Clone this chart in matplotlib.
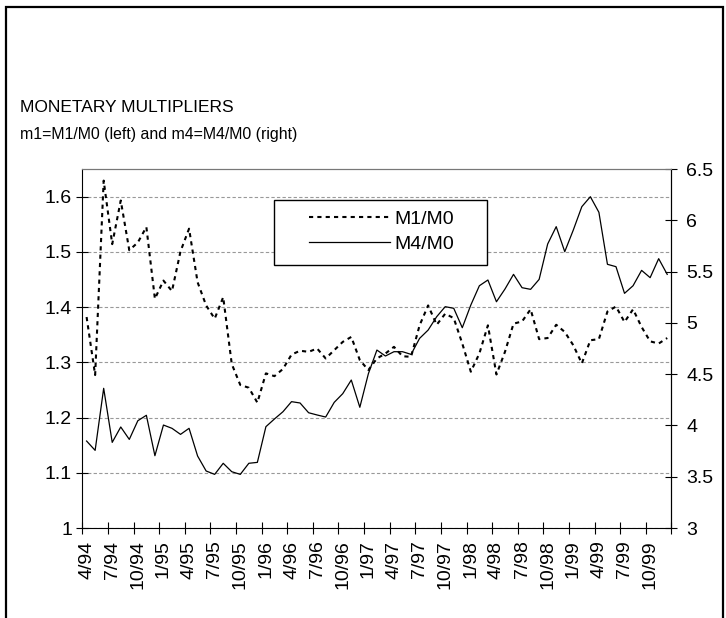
import numpy as np
import matplotlib.pyplot as plt
from matplotlib.patches import Rectangle

plt.rcParams['font.family'] = ['Liberation Sans', 'DejaVu Sans']

# monthly observations, 4/94 .. 12/99
m1 = [1.382, 1.277, 1.629, 1.514, 1.593, 1.503, 1.517, 1.545, 1.415, 1.448,
      1.429, 1.501, 1.542, 1.445, 1.403, 1.379, 1.418, 1.297, 1.259, 1.254,
      1.227, 1.280, 1.275, 1.288, 1.314, 1.321, 1.319, 1.325, 1.307, 1.322,
      1.337, 1.346, 1.304, 1.286, 1.307, 1.316, 1.328, 1.311, 1.310, 1.367,
      1.403, 1.368, 1.388, 1.380, 1.334, 1.283, 1.316, 1.367, 1.278, 1.319,
      1.370, 1.374, 1.396, 1.342, 1.344, 1.368, 1.355, 1.331, 1.298, 1.340,
      1.342, 1.392, 1.401, 1.373, 1.396, 1.364, 1.338, 1.334, 1.344]
m4 = [3.848, 3.757, 4.362, 3.835, 3.985, 3.864, 4.046, 4.099, 3.705, 4.004,
      3.972, 3.913, 3.972, 3.702, 3.556, 3.523, 3.631, 3.549, 3.523, 3.631,
      3.640, 3.988, 4.063, 4.134, 4.232, 4.219, 4.124, 4.102, 4.082, 4.225,
      4.310, 4.443, 4.177, 4.504, 4.735, 4.677, 4.719, 4.719, 4.693, 4.849,
      4.930, 5.060, 5.158, 5.142, 4.953, 5.174, 5.362, 5.418, 5.206, 5.330,
      5.473, 5.343, 5.327, 5.424, 5.769, 5.938, 5.694, 5.905, 6.133, 6.230,
      6.078, 5.571, 5.548, 5.288, 5.362, 5.512, 5.441, 5.626, 5.473]
quarter_labels = ['4/94', '7/94', '10/94', '1/95', '4/95', '7/95', '10/95',
                  '1/96', '4/96', '7/96', '10/96', '1/97', '4/97', '7/97',
                  '10/97', '1/98', '4/98', '7/98', '10/98', '1/99', '4/99',
                  '7/99', '10/99']
left_ticks = [1, 1.1, 1.2, 1.3, 1.4, 1.5, 1.6]
right_ticks = [3, 3.5, 4, 4.5, 5, 5.5, 6, 6.5]

months = np.arange(len(m1))
fs = 14

fig = plt.figure(figsize=(7.26, 6.18), dpi=100)
ax = fig.add_axes([0.1134, 0.1456, 0.8115, 0.5809])
ax2 = ax.twinx()

fig.patches.append(Rectangle((6 / 726, -0.05), 717 / 726, 1.05 - 7 / 618,
                             transform=fig.transFigure, fill=False,
                             edgecolor='black', linewidth=1.6))
fig.text(20 / 726, 1 - 112 / 618, 'MONETARY MULTIPLIERS', fontsize=12.5, va='baseline')
fig.text(20 / 726, 1 - 139 / 618, 'm1=M1/M0 (left) and m4=M4/M0 (right)', fontsize=11.4, va='baseline')

l1, = ax.plot(months, m1, color='black', lw=1.5, ls=(0, (2, 2)), label='M1/M0')
l2, = ax2.plot(months, m4, color='black', lw=0.9, label='M4/M0')

ax.set_xlim(-0.5, len(m1) - 0.5)
ax.set_ylim(1, 1.65)
ax2.set_ylim(3, 6.5)

ax.set_xticks(np.arange(-0.5, len(m1), 3))
ax.set_xticklabels([])
ax.set_xticks(np.arange(0, len(m1), 3), labels=quarter_labels, minor=True)
ax.tick_params(axis='x', which='major', direction='inout', length=9)
ax.tick_params(axis='x', which='minor', length=0, rotation=90, labelsize=fs, pad=9)

ax.set_yticks(left_ticks, labels=['1', '1.1', '1.2', '1.3', '1.4', '1.5', '1.6'])
ax.tick_params(axis='y', direction='inout', length=9, labelsize=fs, pad=3)
ax2.set_yticks(right_ticks, labels=['3', '3.5', '4', '4.5', '5', '5.5', '6', '6.5'])
ax2.tick_params(axis='y', direction='inout', length=9, labelsize=fs, pad=6)

ax.yaxis.grid(True, color='#999999', ls=(0, (3, 2)), lw=0.8)
ax.set_axisbelow(True)
for a in (ax, ax2):
    a.spines['top'].set_color('#777777')
ax2.spines['left'].set_visible(False)
ax2.spines['bottom'].set_visible(False)

# legend box
ax2.add_patch(Rectangle((0.325, 0.733), 0.362, 0.181, transform=ax2.transAxes,
                        facecolor='white', edgecolor='black', lw=1, zorder=5))
leg = ax2.legend([l1, l2], ['M1/M0', 'M4/M0'], loc='center left',
                 bbox_to_anchor=(0.385, 0.826), frameon=False, fontsize=fs,
                 handlelength=4.17, handletextpad=0.2, labelspacing=0.4,
                 borderpad=0, borderaxespad=0)
leg.set_zorder(6)

fig.savefig('out.png')
